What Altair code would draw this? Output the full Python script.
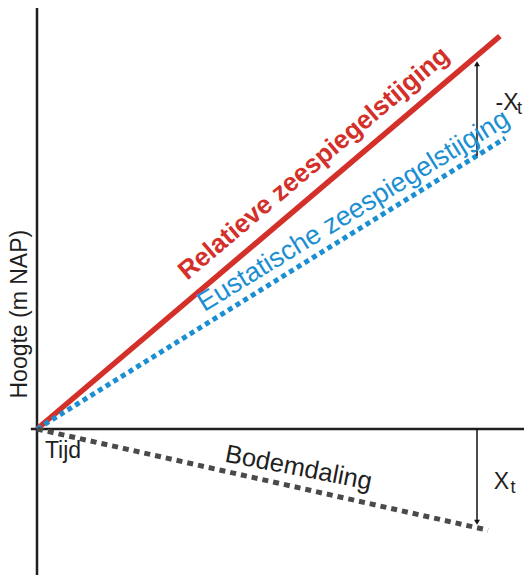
import altair as alt
import pandas as pd

# --- data (time units / height units) ---
rel_t = [0.0, 10.52]
rel_h = [0.0, 8.93]
eus_t = [0.0, 10.64]
eus_h = [0.0, 6.61]
bod_t = [0.0, 10.25]
bod_h = [0.0, -2.30]

arrow_t = 10.0
arrow_up_h = [6.20, 8.30]     # from eustatic up to relative
arrow_down_h = [0.0, -2.12]   # from 0 down to bodemdaling

x_dom = [-0.659, 11.068]
y_dom = [-3.318, 9.568]

W, H = 516, 567

xs = alt.Scale(domain=x_dom, nice=False, zero=False)
ys = alt.Scale(domain=y_dom, nice=False, zero=False)


def line_df(t, h):
    return pd.DataFrame({"t": t, "h": h})


def line_layer(t, h, color, width, dash=None):
    kw = dict(color=color, strokeWidth=width, strokeCap="butt")
    if dash:
        kw["strokeDash"] = dash
    return alt.Chart(line_df(t, h)).mark_line(**kw).encode(
        x=alt.X("t:Q", scale=xs, axis=None),
        y=alt.Y("h:Q", scale=ys, axis=None),
    )


# axes drawn as rules
axes_df = pd.DataFrame({
    "x": [0.0, -0.14], "x2": [0.0, x_dom[1]],
    "y": [y_dom[0], 0.0], "y2": [y_dom[1], 0.0],
})
axes = alt.Chart(axes_df).mark_rule(color="#1f1f1f", strokeWidth=2.5).encode(
    x=alt.X("x:Q", scale=xs, axis=None), x2="x2:Q",
    y=alt.Y("y:Q", scale=ys, axis=None), y2="y2:Q",
)

red = line_layer(rel_t, rel_h, "#d3302a", 5.5)
blue = line_layer(eus_t, eus_h, "#1b8fd2", 5, [5, 4])
gray = line_layer(bod_t, bod_h, "#4a4a4a", 5, [6, 5])

# arrows
arr_df = pd.DataFrame({"x": [arrow_t, arrow_t], "y": [arrow_up_h[0], arrow_down_h[0]],
                       "y2": [arrow_up_h[1], arrow_down_h[1]]})
arr_rules = alt.Chart(arr_df).mark_rule(color="#111", strokeWidth=1.5).encode(
    x=alt.X("x:Q", scale=xs, axis=None),
    y=alt.Y("y:Q", scale=ys, axis=None), y2="y2:Q",
)
head_df = pd.DataFrame({"x": [arrow_t, arrow_t], "y": [arrow_up_h[1], arrow_down_h[1]],
                        "shape": ["triangle-up", "triangle-down"]})
heads = alt.Chart(head_df).mark_point(filled=True, color="#111", size=35, opacity=1).encode(
    x=alt.X("x:Q", scale=xs, axis=None),
    y=alt.Y("y:Q", scale=ys, axis=None),
    shape=alt.Shape("shape:N", scale=None, legend=None),
)


def text_layer(label, x, y, size, color, angle=0, weight="normal", align="center",
               baseline="alphabetic"):
    return alt.Chart(pd.DataFrame({"x": [x], "y": [y], "label": [label]})).mark_text(
        fontSize=size, color=color, angle=angle, fontWeight=weight, align=align,
        baseline=baseline, font="Liberation Sans",
    ).encode(
        x=alt.X("x:Q", scale=xs, axis=None),
        y=alt.Y("y:Q", scale=ys, axis=None),
        text="label:N",
    )


texts = [
    text_layer("Relatieve zeespiegelstijging", 6.41, 5.90, 26, "#d3302a", 319.8, "bold"),
    text_layer("Eustatische  zeespiegelstijging", 7.29, 4.80, 27, "#1b8fd2", 328.4),
    text_layer("Bodemdaling", 5.91, -1.06, 25.5, "#1f1f1f", 11),
    text_layer("Hoogte (m NAP)", -0.38, 2.61, 23, "#1f1f1f", 270, baseline="middle"),
    text_layer("Tijd", 0.18, -0.66, 23, "#1f1f1f", align="left"),
    text_layer("-X", 10.42, 7.41, 23, "#1f1f1f", align="left", baseline="middle"),
    text_layer("t", 10.91, 7.27, 18, "#1f1f1f", align="left", baseline="middle"),
    text_layer("X", 10.38, -1.2, 23, "#1f1f1f", align="left", baseline="middle"),
    text_layer("t", 10.76, -1.34, 18, "#1f1f1f", align="left", baseline="middle"),
]

chart = alt.layer(axes, red, blue, gray, arr_rules, heads, *texts).properties(
    width=W, height=H, padding=0, autosize=alt.AutoSizeParams(type="none"),
    background="white",
).configure_view(stroke=None)

chart.save("out.html", embed_options={"renderer": "svg", "actions": False})
